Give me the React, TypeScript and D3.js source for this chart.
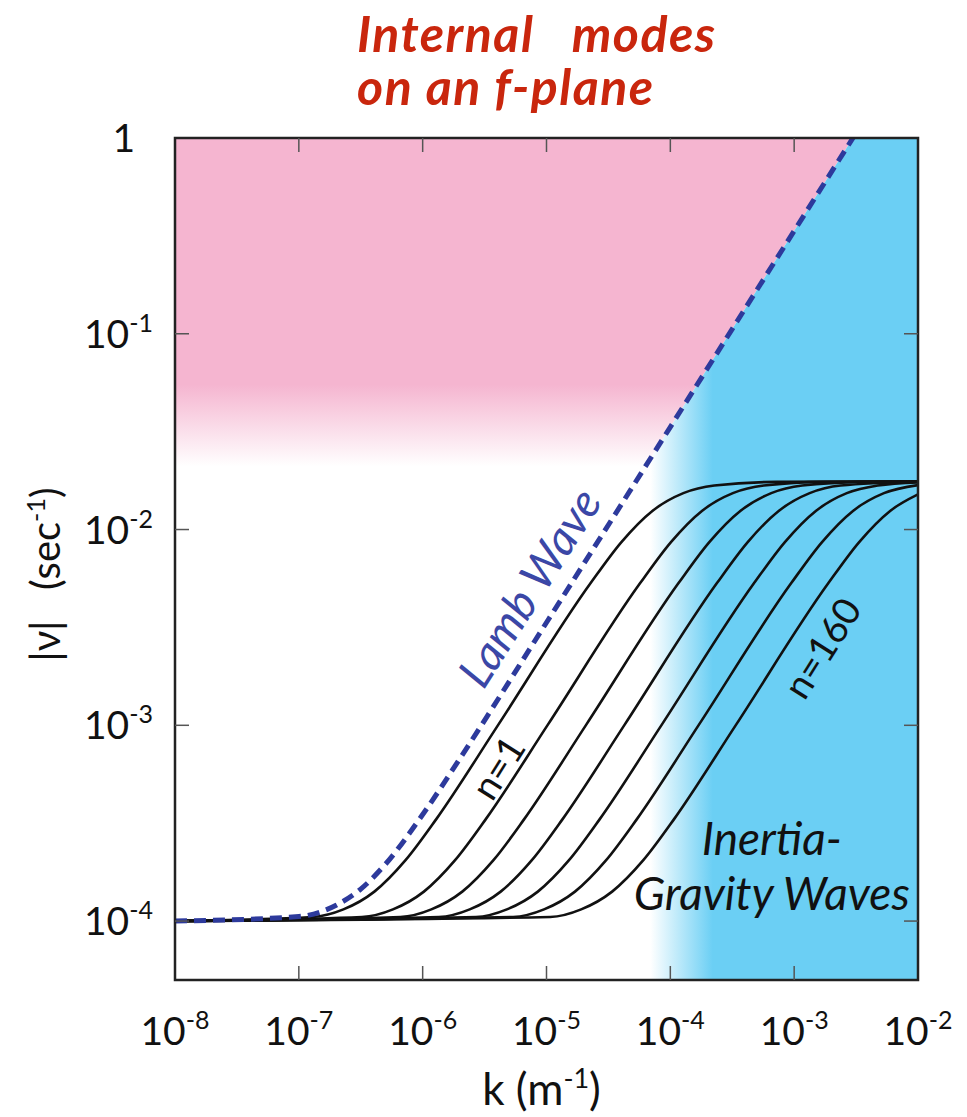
import * as d3 from "d3";

const W = 967;
const H = 1117;
const margin = { top: 138, right: 49, bottom: 137, left: 175 };

// axis ticks (values and exponent labels)
const xTicks = [1e-8, 1e-7, 1e-6, 1e-5, 1e-4, 1e-3, 1e-2];
const xTickExp = ["-8", "-7", "-6", "-5", "-4", "-3", "-2"];
const yTicks = [1, 1e-1, 1e-2, 1e-3, 1e-4];
const yTickExp = ["", "-1", "-2", "-3", "-4"];

// Lamb wave (dashed), [k (m^-1), |nu| (s^-1)]
const lambWave: [number, number][] = [
  [1e-8, 1.0e-4], [1e-7, 1.055e-4], [2e-7, 1.204e-4], [3.16e-7, 1.457e-4],
  [5e-7, 1.951e-4], [1e-6, 3.5e-4], [2e-6, 6.77e-4], [1e-5, 3.35e-3],
  [3.1e-3, 1.04], [1e-2, 3.35],
];

// internal modes, n = 1 ... n = 160
const mode1: [number, number][] = [
  [1e-8, 1.0e-4], [1.288e-7, 1.049e-4], [2.291e-7, 1.147e-4], [4.074e-7, 1.414e-4],
  [7.244e-7, 2.04e-4], [1.288e-6, 3.317e-4], [4.074e-6, 1.005e-3], [2.265e-5, 5.31e-3],
  [4.027e-5, 8.63e-3], [7.16e-5, 1.245e-2], [1.274e-4, 1.534e-2], [2.265e-4, 1.678e-2],
  [7.16e-4, 1.751e-2], [1e-2, 1.76e-2],
];
const mode2: [number, number][] = [
  [1e-8, 1.0e-4], [3.236e-7, 1.049e-4], [5.754e-7, 1.147e-4], [1.023e-6, 1.414e-4],
  [1.82e-6, 2.04e-4], [3.236e-6, 3.317e-4], [1.023e-5, 1.005e-3], [5.689e-5, 5.31e-3],
  [1.012e-4, 8.63e-3], [1.799e-4, 1.245e-2], [3.199e-4, 1.534e-2], [5.689e-4, 1.678e-2],
  [1.799e-3, 1.751e-2], [1e-2, 1.76e-2],
];
const mode3: [number, number][] = [
  [1e-8, 1.0e-4], [6.607e-7, 1.049e-4], [1.175e-6, 1.147e-4], [2.089e-6, 1.414e-4],
  [3.715e-6, 2.04e-4], [6.607e-6, 3.317e-4], [2.089e-5, 1.005e-3], [1.161e-4, 5.31e-3],
  [2.065e-4, 8.63e-3], [3.673e-4, 1.245e-2], [6.531e-4, 1.534e-2], [1.161e-3, 1.678e-2],
  [3.673e-3, 1.751e-2], [1e-2, 1.759e-2],
];
const mode4: [number, number][] = [
  [1e-8, 1.0e-4], [1.349e-6, 1.049e-4], [2.399e-6, 1.147e-4], [4.266e-6, 1.414e-4],
  [7.586e-6, 2.04e-4], [1.349e-5, 3.317e-4], [4.266e-5, 1.005e-3], [2.371e-4, 5.31e-3],
  [4.217e-4, 8.63e-3], [7.499e-4, 1.245e-2], [1.334e-3, 1.534e-2], [2.371e-3, 1.678e-2],
  [1e-2, 1.755e-2],
];
const mode5: [number, number][] = [
  [1e-8, 1.0e-4], [2.692e-6, 1.049e-4], [4.786e-6, 1.147e-4], [8.511e-6, 1.414e-4],
  [1.514e-5, 2.04e-4], [2.692e-5, 3.317e-4], [8.511e-5, 1.005e-3], [4.732e-4, 5.31e-3],
  [8.414e-4, 8.63e-3], [1.496e-3, 1.245e-2], [2.661e-3, 1.534e-2], [4.732e-3, 1.678e-2],
  [1e-2, 1.741e-2],
];
const mode6: [number, number][] = [
  [1e-8, 1.0e-4], [5.37e-6, 1.049e-4], [9.55e-6, 1.147e-4], [1.698e-5, 1.414e-4],
  [3.02e-5, 2.04e-4], [5.37e-5, 3.317e-4], [1.698e-4, 1.005e-3], [9.441e-4, 5.31e-3],
  [1.679e-3, 8.63e-3], [2.985e-3, 1.245e-2], [5.309e-3, 1.534e-2], [1e-2, 1.687e-2],
];
const mode7: [number, number][] = [
  [1e-8, 1.0e-4], [1.072e-5, 1.049e-4], [1.905e-5, 1.147e-4], [3.388e-5, 1.414e-4],
  [6.026e-5, 2.04e-4], [1.072e-4, 3.317e-4], [3.388e-4, 1.005e-3], [1.884e-3, 5.31e-3],
  [3.35e-3, 8.63e-3], [5.957e-3, 1.245e-2], [1e-2, 1.512e-2],
];
const modes = [mode1, mode2, mode3, mode4, mode5, mode6, mode7];

// colour fades (in data units)
const pinkFade = [0.055, 0.021]; // |nu| where pink starts fading / is gone
const blueFade = [6.9e-5, 2.2e-4]; // k where blue starts / is full

const PINK = "#f5b5d0";
const BLUE = "#6bcff4";
const LAMB = "#2d3a9c";
const RED = "#c9260d";
const FONT = "Lato, 'Open Sans', sans-serif";

export default function App() {
  const x = d3.scaleLog().domain([1e-8, 1e-2]).range([margin.left, W - margin.right]);
  const y = d3.scaleLog().domain([5e-5, 1]).range([H - margin.bottom, margin.top]);
  const [x0, x1] = x.range();
  const [y0, y1] = y.range();

  const line = d3
    .line<[number, number]>()
    .x((d) => x(d[0]))
    .y((d) => y(d[1]))
    .curve(d3.curveMonotoneX);

  const pinkArea = d3
    .area<[number, number]>()
    .x((d) => x(d[0]))
    .y0((d) => y(d[1]))
    .y1(y1)
    .curve(d3.curveMonotoneX);

  const blueArea = d3
    .area<[number, number]>()
    .x((d) => x(d[0]))
    .y0(y0)
    .y1((d) => y(d[1]))
    .curve(d3.curveMonotoneX);

  // slope of a |nu| ~ k line on screen
  const angle =
    (Math.atan2(y(1e-3) - y(1e-2), x(1e-3) - x(1e-4)) * 180) / Math.PI;

  const tickLen = 14;
  const titleStyle = { whiteSpace: "pre" as const };

  return (
    <svg
      width={W}
      height={H}
      viewBox={`0 0 ${W} ${H}`}
      style={{ position: "absolute", left: 0, top: 0, background: "#fff" }}
      fontFamily={FONT}
    >
      <defs>
        <clipPath id="plotClip">
          <rect x={x0} y={y1} width={x1 - x0} height={y0 - y1} />
        </clipPath>
        <linearGradient
          id="pinkGrad"
          gradientUnits="userSpaceOnUse"
          x1={0}
          x2={0}
          y1={y(pinkFade[0])}
          y2={y(pinkFade[1])}
        >
          <stop offset="0" stopColor={PINK} />
          <stop offset="1" stopColor="#fff" />
        </linearGradient>
        <linearGradient
          id="blueGrad"
          gradientUnits="userSpaceOnUse"
          x1={x(blueFade[0])}
          x2={x(blueFade[1])}
          y1={0}
          y2={0}
        >
          <stop offset="0" stopColor="#fff" />
          <stop offset="1" stopColor={BLUE} />
        </linearGradient>
      </defs>

      {/* title */}
      <g fill={RED} fontWeight="bold" fontStyle="italic" fontSize={50}>
        <text x={357} y={52} letterSpacing={1.5} style={titleStyle}>{"Internal   modes"}</text>
        <text x={357} y={105} letterSpacing={1.5} style={titleStyle}>{"on an f-plane"}</text>
      </g>

      <g clipPath="url(#plotClip)">
        <path d={pinkArea(lambWave) ?? ""} fill="url(#pinkGrad)" />
        <path d={blueArea(lambWave) ?? ""} fill="url(#blueGrad)" />
        {modes.map((m, i) => (
          <path key={i} d={line(m) ?? ""} fill="none" stroke="#111" strokeWidth={2.6} />
        ))}
        <path
          d={line(lambWave) ?? ""}
          fill="none"
          stroke={LAMB}
          strokeWidth={5}
          strokeDasharray="12 7"
        />
      </g>

      {/* frame and ticks */}
      <rect
        x={x0}
        y={y1}
        width={x1 - x0}
        height={y0 - y1}
        fill="none"
        stroke="#222"
        strokeWidth={2.5}
      />
      {xTicks.slice(1, -1).map((t) => (
        <g key={"xt" + t} stroke="#555" strokeWidth={1.5}>
          <line x1={x(t)} x2={x(t)} y1={y0} y2={y0 - tickLen} />
          <line x1={x(t)} x2={x(t)} y1={y1} y2={y1 + tickLen} />
        </g>
      ))}
      {yTicks.slice(1).map((t) => (
        <g key={"yt" + t} stroke="#555" strokeWidth={1.5}>
          <line x1={x0} x2={x0 + tickLen} y1={y(t)} y2={y(t)} />
          <line x1={x1} x2={x1 - tickLen} y1={y(t)} y2={y(t)} />
        </g>
      ))}

      {/* x tick labels */}
      {xTicks.map((t, i) => (
        <text key={"xl" + t} x={x(t)} y={y0 + 65} textAnchor="middle" fontSize={39} fill="#111">
          10
          <tspan dy={-16} fontSize={25}>{xTickExp[i]}</tspan>
        </text>
      ))}
      {/* y tick labels */}
      {yTicks.map((t, i) =>
        yTickExp[i] === "" ? (
          <text key={"yl" + t} x={x0 - 40} y={y(t) + 14} textAnchor="end" fontSize={39} fill="#111">
            1
          </text>
        ) : (
          <text key={"yl" + t} x={x0 - 22} y={y(t) + 14} textAnchor="end" fontSize={39} fill="#111">
            10
            <tspan dy={-16} fontSize={25}>{yTickExp[i]}</tspan>
          </text>
        )
      )}

      {/* axis titles */}
      <text x={(x0 + x1) / 2 - 5} y={H - 12} textAnchor="middle" fontSize={44} fill="#111">
        k (m
        <tspan dy={-17} fontSize={27}>-1</tspan>
        <tspan dy={17}>)</tspan>
      </text>
      <text
        transform={`translate(60, ${y(5.9e-3)}) rotate(-90)`}
        textAnchor="middle"
        fontSize={40}
        fill="#111"
        style={{ whiteSpace: "pre" }}
      >
        {"|ν|   (sec"}
        <tspan dy={-15} fontSize={25}>-1</tspan>
        <tspan dy={15}>)</tspan>
      </text>

      {/* annotations */}
      <text
        transform={`translate(${x(3.1e-6)}, ${y(1.5e-3)}) rotate(${-angle})`}
        fontSize={46}
        fontStyle="italic"
        fill="#3b47a6"
      >
        Lamb Wave
      </text>
      <text
        transform={`translate(${x(3.98e-6)}, ${y(6.12e-4)}) rotate(${-angle})`}
        fontSize={38}
        textAnchor="middle"
        dominantBaseline="central"
        fill="#111"
      >
        n=1
      </text>
      <text
        transform={`translate(${x(1.65e-3)}, ${y(2.5e-3)}) rotate(${-angle})`}
        fontSize={38}
        textAnchor="middle"
        dominantBaseline="central"
        fill="#111"
      >
        n=160
      </text>
      <text x={x(6.4e-4)} textAnchor="middle" fontSize={46} fontStyle="italic" fill="#111">
        <tspan x={x(6.6e-4)} y={y(2.18e-4)}>Inertia-</tspan>
        <tspan x={x(6.6e-4)} y={y(1.14e-4)}>Gravity Waves</tspan>
      </text>
    </svg>
  );
}
